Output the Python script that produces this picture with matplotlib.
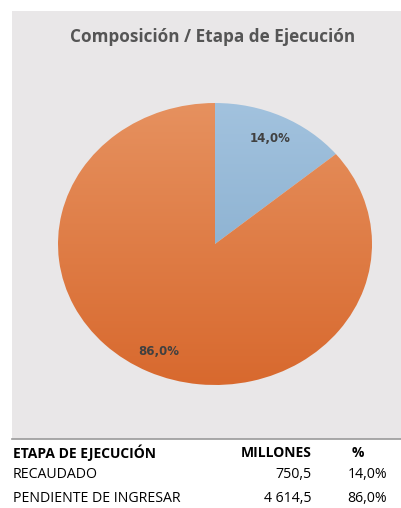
import numpy as np
import matplotlib.pyplot as plt
from matplotlib.colors import LinearSegmentedColormap

# Datos
etapas = ['RECAUDADO', 'PENDIENTE DE INGRESAR']
millones = [750.5, 4614.5]
millones_txt = ['750,5', '4 614,5']
titulo = 'Composición / Etapa de Ejecución'

total = sum(millones)
pct = [m / total * 100 for m in millones]
pct_txt = [f'{p:.1f}%'.replace('.', ',') for p in pct]

# colores (degradado arriba -> abajo)
grad = [('#a2c2de', '#7da6c8'), ('#e6915f', '#d8692e')]

fig = plt.figure(figsize=(4.01, 5.08), dpi=100)
W, H = 401, 508

# panel gris del grafico
bg = fig.add_axes([12 / W, 1 - 439 / H, 1 - 12 / W, (439 - 11) / H])
bg.set_facecolor('#e9e7e8')
bg.set_xticks([])
bg.set_yticks([])
for s in bg.spines.values():
    s.set_visible(False)
bg.spines['bottom'].set_visible(True)
bg.spines['bottom'].set_color('#9a9a9a')
bg.spines['bottom'].set_linewidth(1.2)

fig.text(213 / W, 1 - 37 / H, titulo, ha='center', va='center',
         fontsize=12.3, fontweight='bold', color='#555555', family='Open Sans')

# pastel
ax = fig.add_axes([58 / W, 1 - 385 / H, 314 / W, 282 / H])
wedges, _ = ax.pie(millones, startangle=90, counterclock=False, radius=1,
                   wedgeprops=dict(linewidth=0))
ax.set_aspect('auto')
ax.set_xlim(-1, 1)
ax.set_ylim(-1, 1)
ax.axis('off')

g = np.linspace(0, 1, 256).reshape(-1, 1)
for w, (c0, c1) in zip(wedges, grad):
    w.set_facecolor('none')
    cmap = LinearSegmentedColormap.from_list('g', [c0, c1])
    im = ax.imshow(g, cmap=cmap, extent=(-1, 1, -1, 1), aspect='auto',
                   origin='upper', zorder=1)
    im.set_clip_path(w)

dists = [0.83, 0.84]
for w, t, d in zip(wedges, pct_txt, dists):
    ang = np.deg2rad((w.theta1 + w.theta2) / 2)
    ax.text(d * np.cos(ang), d * np.sin(ang), t, ha='center', va='center',
            fontsize=8.5, fontweight='bold', color='#404040', zorder=3)

# tabla
fam = 'Open Sans'
y_head = 1 - 453 / H
fig.text(13 / W, y_head, 'ETAPA DE EJECUCIÓN', ha='left', va='center',
         fontsize=10, fontweight='bold', family=fam)
fig.text(312 / W, y_head, 'MILLONES', ha='right', va='center',
         fontsize=10, fontweight='bold', family=fam)
fig.text(358 / W, y_head, '%', ha='center', va='center',
         fontsize=10, fontweight='bold', family=fam)

filas_y = [474, 498]
for e, m, p, yy in zip(etapas, millones_txt, pct_txt, filas_y):
    y = 1 - yy / H
    fig.text(13 / W, y, e, ha='left', va='center', fontsize=10.2, family=fam)
    fig.text(312 / W, y, m, ha='right', va='center', fontsize=10.2, family=fam)
    fig.text(387 / W, y, p, ha='right', va='center', fontsize=10.2, family=fam)

fig.savefig('out.png', dpi=100)
